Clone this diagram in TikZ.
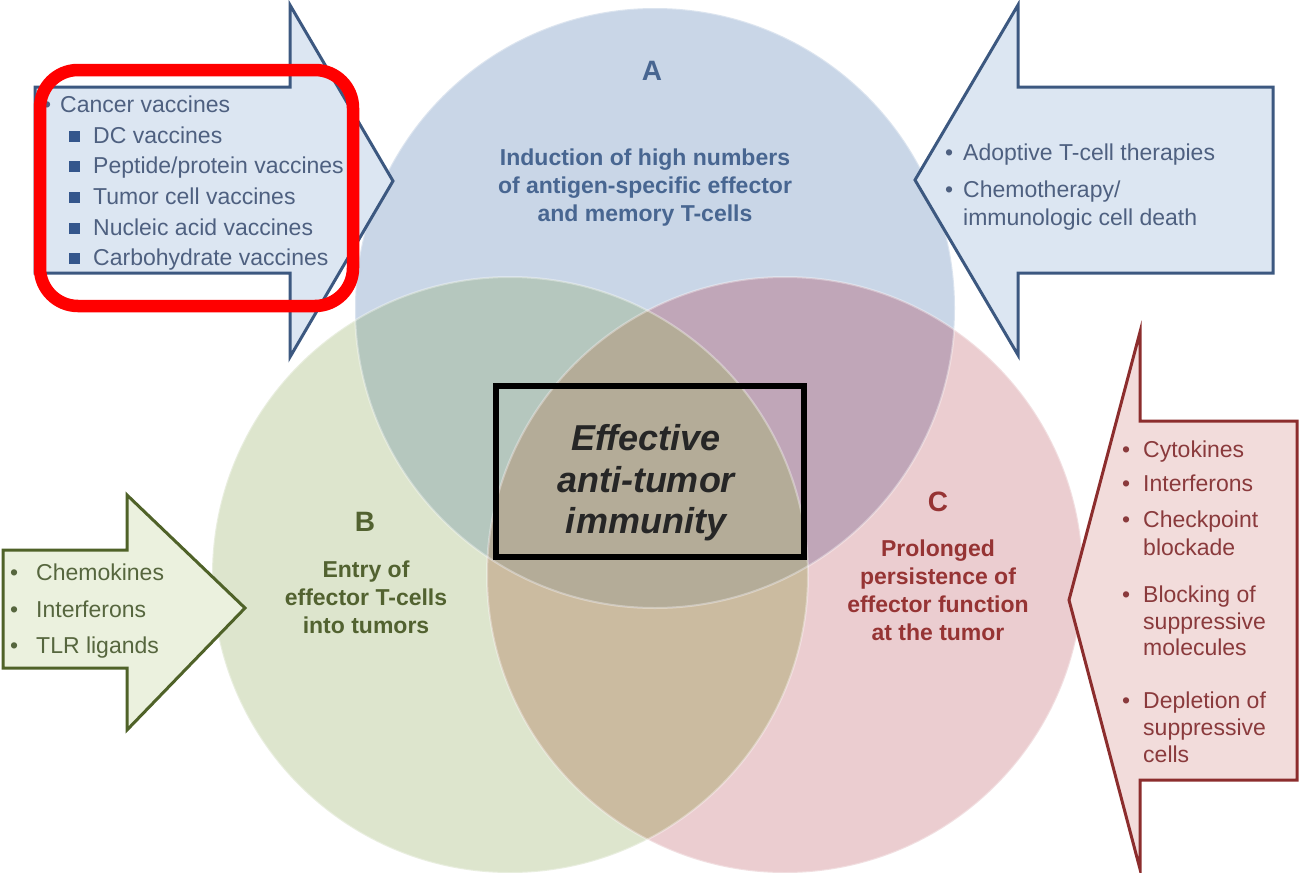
\documentclass[tikz,border=0pt]{standalone}
\usepackage{fontspec}
\setmainfont{Liberation Sans}
\definecolor{cA}{RGB}{201,214,231}
\definecolor{cB}{RGB}{221,229,205}
\definecolor{cC}{RGB}{235,205,208}
\definecolor{cAB}{RGB}{181,199,190}
\definecolor{cAC}{RGB}{192,166,184}
\definecolor{cBC}{RGB}{203,187,160}
\definecolor{cABC}{RGB}{180,172,152}
\definecolor{blueFill}{RGB}{220,230,242}
\definecolor{blueLine}{RGB}{60,88,128}
\definecolor{greenFill}{RGB}{235,241,222}
\definecolor{greenLine}{RGB}{79,98,40}
\definecolor{redFill}{RGB}{242,220,219}
\definecolor{redLine}{RGB}{140,45,45}
\definecolor{blueTxt}{RGB}{78,96,128}
\definecolor{sqBlue}{RGB}{52,86,140}
\definecolor{aTxt}{RGB}{72,102,145}
\definecolor{bTxt}{RGB}{82,98,48}
\definecolor{cTxt}{RGB}{150,52,52}
\definecolor{redTxt}{RGB}{138,58,60}
\definecolor{greenTxt}{RGB}{86,102,62}
\definecolor{markRed}{RGB}{255,0,0}
\begin{document}
\begin{tikzpicture}[x=1pt,y=-1pt,
  lst/.style={anchor=base west,inner sep=0pt,font=\fontsize{23}{28}\selectfont},
  ctr/.style={anchor=base,inner sep=0pt,font=\fontsize{23}{28}\selectfont\bfseries},
  letter/.style={anchor=base,inner sep=0pt,font=\fontsize{28}{32}\selectfont\bfseries},
  big/.style={anchor=base,inner sep=0pt,font=\fontsize{36}{40}\selectfont\bfseries\itshape},
  sqbullet/.style={fill=sqBlue,inner sep=0pt,minimum size=11pt},
  arrowshape/.style={line width=3pt,line join=miter},
  rim/.style={draw=white,draw opacity=0.35,line width=2pt}
]
\useasboundingbox (0,0) rectangle (1299,873);
\fill[white] (0,0) rectangle (1299,873);

% circles
\fill[cA] (655,308) circle[radius=300pt];
\fill[cB] (510,575) circle[radius=298pt];
\fill[cC] (785,575) circle[radius=298pt];
\begin{scope}
  \clip (510,575) circle[radius=298pt];
  \fill[cBC] (785,575) circle[radius=298pt];
\end{scope}
\begin{scope}
  \clip (655,308) circle[radius=300pt];
  \fill[cAB] (510,575) circle[radius=298pt];
  \fill[cAC] (785,575) circle[radius=298pt];
  \clip (510,575) circle[radius=298pt];
  \fill[cABC] (785,575) circle[radius=298pt];
\end{scope}
\draw[rim] (655,308) circle[radius=300pt];
\draw[rim] (510,575) circle[radius=298pt];
\draw[rim] (785,575) circle[radius=298pt];

% arrows
\draw[arrowshape,draw=blueLine,fill=blueFill]
  (35,87) -- (290,87) -- (290,5) -- (393,181) -- (290,357) -- (290,273) -- (35,273) -- cycle;
\draw[arrowshape,draw=blueLine,fill=blueFill]
  (1273,87) -- (1018,87) -- (1018,5) -- (915,180) -- (1018,355) -- (1018,273) -- (1273,273) -- cycle;
\draw[arrowshape,draw=redLine,fill=redFill]
  (1297,421) -- (1140,421) -- (1140,332) -- (1069,600) -- (1140,869) -- (1140,780) -- (1297,780) -- cycle;
\draw[arrowshape,draw=greenLine,fill=greenFill]
  (3,550) -- (127,550) -- (127,495) -- (245,608) -- (127,730) -- (127,668) -- (3,668) -- cycle;

% circle labels
\node[letter,text=aTxt] (la) at (652,80) {A};
\node[ctr,text=aTxt] (ta1) at (645,165) {Induction of high numbers};
\node[ctr,text=aTxt] (ta2) at (645,193) {of antigen-specific effector};
\node[ctr,text=aTxt] (ta3) at (645,221) {and memory T-cells};

\node[letter,text=bTxt] (lb) at (365,531) {B};
\node[ctr,text=bTxt] (tb1) at (366,577) {Entry of};
\node[ctr,text=bTxt] (tb2) at (366,605) {effector T-cells};
\node[ctr,text=bTxt] (tb3) at (366,633) {into tumors};

\node[letter,text=cTxt] (lc) at (938,511) {C};
\node[ctr,text=cTxt] (tc1) at (938,556) {Prolonged};
\node[ctr,text=cTxt] (tc2) at (938,584) {persistence of};
\node[ctr,text=cTxt] (tc3) at (938,612) {effector function};
\node[ctr,text=cTxt] (tc4) at (938,640) {at the tumor};

% left blue list
\node[lst,text=blueTxt] (lvb) at (43,112) {•};
\node[lst,text=blueTxt] (lv0) at (60,112) {Cancer vaccines};
\foreach \t/\y [count=\i] in {DC vaccines/143,Peptide\slash protein vaccines/173,Tumor cell vaccines/204,Nucleic acid vaccines/235,Carbohydrate vaccines/265}{
  \node[sqbullet] (sq\i) at (74,\y-7) {};
  \node[lst,text=blueTxt] (lv\i) at (93,\y) {\t};
}

% right blue list
\node[lst,text=blueTxt] (rb1) at (945,160) {•};
\node[lst,text=blueTxt] (rt1) at (963,160) {Adoptive T-cell therapies};
\node[lst,text=blueTxt] (rb2) at (945,197) {•};
\node[lst,text=blueTxt] (rt2) at (963,197) {Chemotherapy/};
\node[lst,text=blueTxt] (rt3) at (963,225) {immunologic cell death};

% red list
\foreach \y [count=\i] in {457,491,527,602,708}{
  \node[lst,text=redTxt] (cb\i) at (1122,\y) {•};
}
\node[lst,text=redTxt] (c1) at (1143,457) {Cytokines};
\node[lst,text=redTxt] (c2) at (1143,491) {Interferons};
\node[lst,text=redTxt] (c3) at (1143,527) {Checkpoint};
\node[lst,text=redTxt] (c4) at (1143,555) {blockade};
\node[lst,text=redTxt] (c5) at (1143,602) {Blocking of};
\node[lst,text=redTxt] (c6) at (1143,629) {suppressive};
\node[lst,text=redTxt] (c7) at (1143,655) {molecules};
\node[lst,text=redTxt] (c8) at (1143,708) {Depletion of};
\node[lst,text=redTxt] (c9) at (1143,735) {suppressive};
\node[lst,text=redTxt] (c10) at (1143,762) {cells};

% green list
\foreach \t/\y [count=\i] in {Chemokines/580,Interferons/617,TLR ligands/653}{
  \node[lst,text=greenTxt] (gb\i) at (10,\y) {•};
  \node[lst,text=greenTxt] (g\i) at (36,\y) {\t};
}

% center box
\draw[line width=6pt,black] (496,386) rectangle (804,557);
\node[big,text=black!85] (e1) at (646,450) {Effective};
\node[big,text=black!85] (e2) at (646,492) {anti-tumor};
\node[big,text=black!85] (e3) at (646,533) {immunity};

% red highlight
\draw[markRed,line width=12.5pt,rounded corners=38pt] (40,70) rectangle (353,306);
\end{tikzpicture}
\end{document}
